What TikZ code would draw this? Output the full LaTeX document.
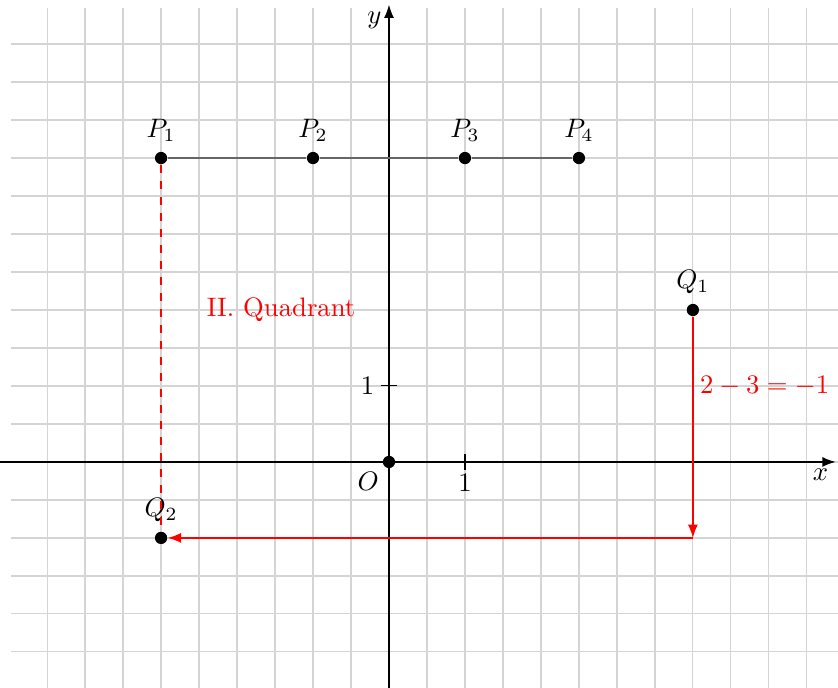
\documentclass[tikz,border=0pt]{standalone}
\usepackage{amsmath}
\usepackage{tikz}
\usetikzlibrary{arrows.meta,positioning}
\definecolor{kqgridc}{HTML}{D4D4D4}
\definecolor{kqline} {HTML}{666666}
\definecolor{kqred}  {HTML}{FF0000}
\tikzset{
  kqgrid/.style={draw=kqgridc, line width=0.45pt},
  kqaxis/.style={-{Latex[length=5pt]}, draw=black, line width=0.6pt},
  kqpoint/.style={circle, fill=black, inner sep=0pt, minimum size=4.6pt},
  kqseg/.style={draw=kqline, line width=0.6pt},
  kqmove/.style={-{Latex[length=5pt]}, draw=kqred, line width=0.5pt},
  kqdash/.style={draw=kqred, dashed, line width=0.5pt},
  kqlabel/.style={text=kqred},
}

\begin{document}
\begin{tikzpicture}
  \useasboundingbox (-5.12,-2.97) rectangle (5.91,6.08);
  \clip (-5.12,-2.97) rectangle (5.91,6.08);
  \draw[kqgrid,step=0.5] (-4.97,-3.2) grid (6.2,5.97);
  % axes
  \coordinate (xl) at (-5.12,0); \coordinate (xr) at (5.88,0);
  \coordinate (yb) at (0,-2.97); \coordinate (yt) at (0,6.02);
  \draw[kqaxis] (xl)--(xr); \draw[kqaxis] (yb)--(yt);
  \node[below left=-1pt of xr] (xlab) {$x$};
  \node[below left=-1pt of yt] (ylab) {$y$};
  \coordinate (tx) at (1,0); \coordinate (ty) at (0,1);
  \draw ([yshift=-3pt]tx)--([yshift=3pt]tx);
  \draw ([xshift=-3pt]ty)--([xshift=3pt]ty);
  \node[below=1pt of tx] (txlab) {$1$};
  \node[left=2pt of ty] (tylab) {$1$};
  % points
  \node[kqpoint,label={[label distance=-2pt]below left:$O$}] (o) at (0,0) {};
  \node[kqpoint,label=above:$P_1$] (p1) at (-3,4)   {};
  \node[kqpoint,label=above:$P_2$] (p2) at (-1,4)   {};
  \node[kqpoint,label=above:$P_3$] (p3) at (1,4)    {};
  \node[kqpoint,label=above:$P_4$] (p4) at (2.5,4)  {};
  \node[kqpoint,label=above:$Q_1$] (q1) at (4,2)    {};
  \node[kqpoint,label=above:$Q_2$] (q2) at (-3,-1)  {};
  \coordinate (c) at (4,-1);
  \draw[kqseg] (p1)--(p2); \draw[kqseg] (p2)--(p3); \draw[kqseg] (p3)--(p4);
  \draw[kqdash] (p1)--(q2);
  \draw[kqmove] (q1)--(c); \draw[kqmove] (c)--(q2);
  \node[kqlabel] (quad) at (-1.42,2) {II. Quadrant};
  \node[kqlabel,anchor=west] (diff) at (3.97,1) {$2-3=-1$};
\end{tikzpicture}
\end{document}
